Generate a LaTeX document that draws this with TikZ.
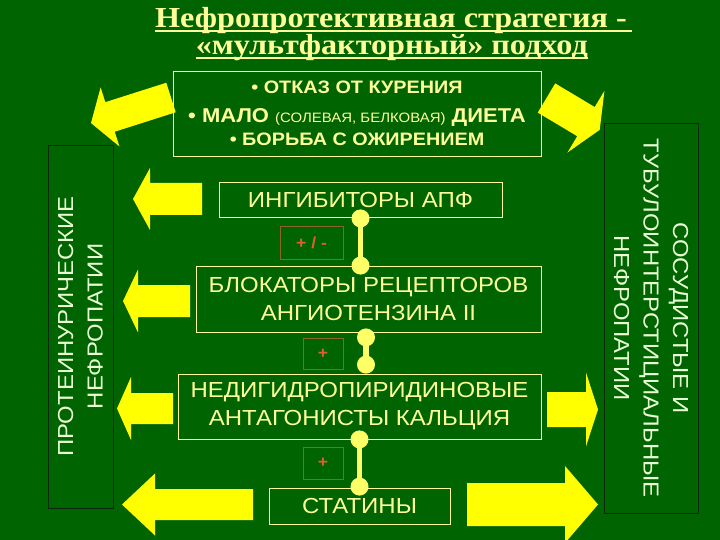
\documentclass[tikz,border=0pt]{standalone}
\usepackage{fontspec}
\setmainfont{Liberation Serif}[FakeStretch=1.11]
\setsansfont{Liberation Sans}[FakeStretch=1.1]
\usepackage{tikz}
\usetikzlibrary{positioning,calc}
\definecolor{bggreen}{RGB}{0,100,0}
\definecolor{paleyel}{RGB}{255,255,153}
\definecolor{arrowyel}{RGB}{255,255,0}
\definecolor{knobyel}{RGB}{255,255,102}
\definecolor{signline}{RGB}{140,100,40}
\definecolor{signtext}{RGB}{225,95,45}
\definecolor{sidetext}{RGB}{235,255,215}
\definecolor{sideline}{RGB}{10,40,10}
\tikzstyle{title} = [text=paleyel, inner sep=0pt, font=\bfseries\fontsize{29}{30}\selectfont]
\tikzstyle{drug} = [rectangle, draw=paleyel, text=paleyel, align=center, inner sep=0pt, line width=0.8pt, font=\sffamily\fontsize{21.8}{28}\selectfont]
\tikzstyle{tips} = [drug, font=\sffamily\bfseries\fontsize{18}{23}\selectfont]
\tikzstyle{sign} = [rectangle, draw=signline, text=signtext, inner sep=0pt, line width=0.8pt, font=\sffamily\bfseries\fontsize{16}{16}\selectfont]
\tikzstyle{side} = [rectangle, draw=sideline, text=sidetext, align=center, inner sep=0pt, line width=0.8pt, font=\sffamily\fontsize{21.7}{29.5}\selectfont]
\tikzstyle{link} = [draw=knobyel, line width=5.5pt]
\tikzstyle{knob} = [fill=knobyel]
\tikzstyle{fat} = [fill=arrowyel]
% tail centre, angle, length, head length, shaft half width, head half width
\newcommand{\fatarrow}[6]{%
  \fill[fat, shift={#1}, rotate=#2] (0,-#5) -- (#3-#4,-#5) -- (#3-#4,-#6) -- (#3,0)
    -- (#3-#4,#6) -- (#3-#4,#5) -- (0,#5) -- cycle;}

\begin{document}
\begin{tikzpicture}[x=1pt,y=-1pt]
	% background
	\fill[bggreen] (0,0) rectangle (720,540);
	\useasboundingbox (0,0) rectangle (720,540);

	% title
	\node [title, anchor=base west] (T1) at (155,28) {Нефропротективная стратегия -\,};
	\node [title, anchor=base east] (T2) at (588,55) {«мультфакторный» подход};
	\draw [paleyel, line width=1.4pt] ($(T1.base west)+(0,3)$) -- ($(T1.base east)+(0,3)$);
	\draw [paleyel, line width=1.4pt] ($(T2.base west)+(0,3)$) -- ($(T2.base east)+(0,3)$);

	% big arrows
	\fatarrow{(171,97.5)}{197.7}{84}{20}{15.5}{31}
	\fatarrow{(202,199)}{180}{69}{17}{16}{31}
	\fatarrow{(190,301)}{180}{67}{15}{16}{31.5}
	\fatarrow{(173,408.5)}{180}{56}{14}{15.5}{31.5}
	\fatarrow{(253,504.5)}{180}{131}{33}{15.5}{31}
	\fatarrow{(546.5,98)}{-30.9}{62}{16}{17}{36}
	\fatarrow{(547,409.5)}{0}{51}{12}{17.5}{37}
	\fatarrow{(467,504.5)}{0}{131}{33}{21.5}{38.5}

	% place nodes
	\node [tips, minimum width=368, minimum height=85] (LIFE) at (357,113.5)
		{• ОТКАЗ ОТ КУРЕНИЯ\\[6pt]
		 {\fontsize{20}{23}\selectfont • МАЛО {\mdseries\fontsize{13.6}{13.6}\selectfont (СОЛЕВАЯ, БЕЛКОВАЯ)} ДИЕТА}\\
		 • БОРЬБА С ОЖИРЕНИЕМ};
	\node [drug, minimum width=283, minimum height=35] (ACE) at (360.5,199.5) {ИНГИБИТОРЫ АПФ};
	\node [drug, minimum width=345, minimum height=66] (ARB) at (368.5,299) {БЛОКАТОРЫ РЕЦЕПТОРОВ\\АНГИОТЕНЗИНА II};
	\node [drug, minimum width=363, minimum height=65] (NDCA) at (359.5,406.5) {НЕДИГИДРОПИРИДИНОВЫЕ\\АНТАГОНИСТЫ КАЛЬЦИЯ};
	\node [drug, minimum width=181, minimum height=36] (STAT) at (359.5,506) {СТАТИНЫ};

	\node [sign, minimum width=63, minimum height=33] (S1) at (311.5,242.5) {+ / -};
	\node [sign, minimum width=40, minimum height=31] (S2) at (323,353.5) {+};
	\node [sign, minimum width=40, minimum height=32] (S3) at (323,463) {+};

	\node [side, rotate=90, minimum width=363, minimum height=65] (PROT) at (80.5,326.5)
		{ПРОТЕИНУРИЧЕСКИЕ\\НЕФРОПАТИИ};
	\node [side, rotate=-90, minimum width=390, minimum height=94] (VASC) at (651,318)
		{СОСУДИСТЫЕ И\\ТУБУЛОИНТЕРСТИЦИАЛЬНЫЕ\\НЕФРОПАТИИ};

	% draw links
	\coordinate (K1) at ($(ACE.south)+(0,1)$);
	\coordinate (K2) at (K1 |- ARB.north);
	\coordinate (K3) at ($(ARB.south)+(-2.5,5)$);
	\coordinate (K4) at ($(NDCA.north)+(6.5,-9)$);
	\coordinate (K5) at (NDCA.south);
	\coordinate (K6) at ($(STAT.north)+(0,-1)$);
	\path [link] (K1) -- (K2);
	\path [link] (K3) -- (K4);
	\path [link] (K5) -- (K6);
	\foreach \k in {K1,K2,K3,K4,K5,K6}
		\fill [knob] (\k) circle (9);
\end{tikzpicture}
\end{document}
